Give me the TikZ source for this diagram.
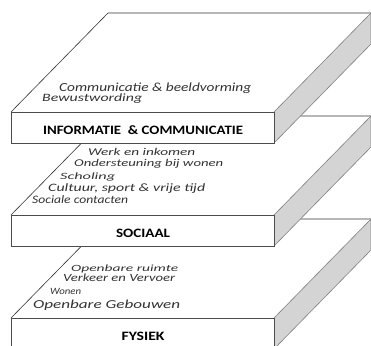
\documentclass[tikz,border=0pt]{standalone}
\usepackage{fontspec}
\setmainfont{Carlito}
\usepackage{graphicx}
\newsavebox\fwbox
\newcommand\fw[3]{{\fontsize{#1}{#1}\selectfont\sbox\fwbox{#3}\pgfmathsetmacro\fwx{#2/\wd\fwbox}\scalebox{\fwx}[1]{\usebox\fwbox}}}
\tikzset{
  edge/.style={draw=black!80, line width=0.6pt},
  sideface/.style={fill=black!17, draw=black!50, line width=0.6pt},
  frontface/.style={draw=black!70, fill=white, line width=1.1pt, minimum width=263pt, minimum height=31pt, anchor=north west, text height=12pt, text depth=0pt, inner sep=0pt, font=\bfseries},
  item/.style={anchor=base west, inner sep=0pt, text=black!80, font=\itshape}
}
\begin{document}
\begin{tikzpicture}[x=1pt,y=-1pt]
\useasboundingbox (0,0) rectangle (371,345);
\fill[white] (0,0) rectangle (371,345);
\clip (0,0) rectangle (371,345);
% ---------- bottom slab (FYSIEK), T=318
\fill[white] (11,318) -- (108,219) -- (371,219) -- (274,318) -- cycle;
\draw[edge] (11,318) -- (108,219) -- (371,219);
\filldraw[sideface] (274,318) -- (371,219) -- (371,250) -- (274,349) -- cycle;
\node[frontface] (fys) at (11,318) {\fw{12.8}{43}{FYSIEK}};
\node[item] (f1) at (71,271) {\fw{9.5}{107}{Openbare ruimte}};
\node[item] (f2) at (63,281.5) {\fw{11}{112}{Verkeer en Vervoer}};
\node[item] (f3) at (50,294) {\fw{9.6}{31}{Wonen}};
\node[item] (f4) at (33,308.5) {\fw{12.2}{147}{Openbare Gebouwen}};
% ---------- middle slab (SOCIAAL), T=215
\fill[white] (11,215) -- (108,116) -- (371,116) -- (274,215) -- cycle;
\draw[edge] (11,215) -- (108,116) -- (371,116);
\filldraw[sideface] (274,215) -- (371,116) -- (371,147) -- (274,246) -- cycle;
\node[frontface] (soc) at (11,215) {\fw{12.8}{54}{SOCIAAL}};
\node[item] (s1) at (88,155.5) {\fw{10.4}{107}{Werk en inkomen}};
\node[item] (s2) at (74,166.7) {\fw{10.4}{149}{Ondersteuning bij wonen}};
\node[item] (s3) at (60,179) {\fw{9.6}{55}{Scholing}};
\node[item] (s4) at (48,191.7) {\fw{11.3}{157}{Cultuur, sport \& vrije tijd}};
\node[item] (s5) at (32,203.5) {\fw{11.4}{96}{Sociale contacten}};
% ---------- top slab (INFORMATIE & COMMUNICATIE), T=112
\fill[white] (11,112) -- (108,13) -- (371,13) -- (274,112) -- cycle;
\draw[edge] (11,112) -- (108,13) -- (371,13);
\filldraw[sideface] (274,112) -- (371,13) -- (371,44) -- (274,143) -- cycle;
\node[frontface] (inf) at (11,112) {\fw{12.8}{200}{INFORMATIE \ \& COMMUNICATIE}};
\node[item] (i1) at (59,91.5) {\fw{12.4}{192}{Communicatie \& beeldvorming}};
\node[item] (i2) at (42,101.8) {\fw{11.2}{100}{Bewustwording}};
\end{tikzpicture}
\end{document}
